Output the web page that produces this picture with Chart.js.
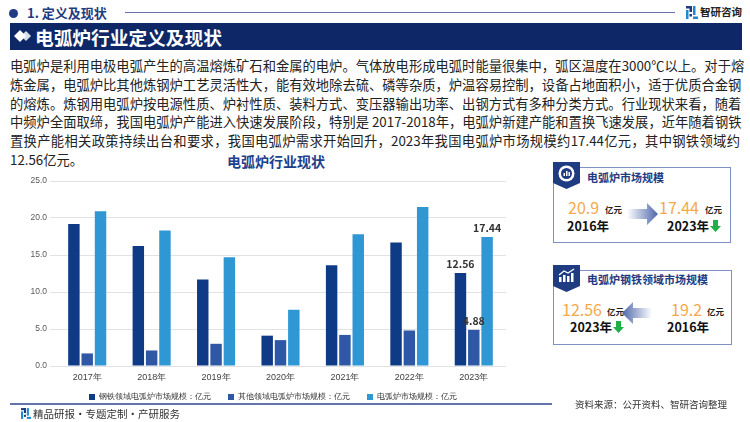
<!DOCTYPE html>
<html>
<head>
<meta charset="utf-8">
<script src="https://cdn.jsdelivr.net/npm/chart.js@4.4.0/dist/chart.umd.min.js"></script>
<style>
  body { margin: 0; width: 750px; height: 422px; overflow: hidden; background: #fff; position: relative;
         font-family: "Noto Sans CJK SC", "Noto Sans", sans-serif; }
  .abs { position: absolute; }
  .para { left: 10px; top: 57px; width: 730px; font-size: 13.3px; color: #222; }
  .para div { height: 18.8px; line-height: 18.8px; text-align: justify; text-align-last: justify; white-space: nowrap; }
  .para div.last { text-align-last: left; }
  .box { border: 1px solid #7f90c4; background: #fff; }
  .tab { background: #1f3b82; clip-path: polygon(0 0, 100% 0, 100% 78%, 50% 100%, 0 78%); }
  .ptitle { font-size: 11px; font-weight: bold; color: #1f3b82; white-space: nowrap; }
  .num { font-size: 16px; color: #f5a94c; line-height: 1; }
  .unit { font-size: 8.5px; font-weight: bold; color: #222; }
  .yr { font-size: 12.5px; font-weight: bold; color: #111; line-height: 1; }
</style>
</head>
<body>
<!-- header -->
<div class="abs" style="left:9px;top:9px;width:9px;height:9px;border-radius:50%;background:#1f3b82;"></div>
<div class="abs" style="left:27px;top:4px;font-size:13px;font-weight:bold;color:#1f3b82;line-height:18px;">1. 定义及现状</div>
<div class="abs" style="left:125px;top:12px;width:550px;height:1px;background:#6274a8;"></div>
<svg class="abs" style="left:686px;top:6px;" width="12" height="13" viewBox="0 0 12 13">
  <rect x="0" y="0" width="6" height="2.5" fill="#1f3b82"/><rect x="3.5" y="0" width="2.5" height="6" fill="#1f3b82"/>
  <rect x="0" y="4" width="2.5" height="9" fill="#1f88d2"/><rect x="7" y="0" width="2.5" height="9" fill="#1f88d2"/>
  <rect x="7" y="10.5" width="5" height="2.5" fill="#1f88d2"/><rect x="3.5" y="8" width="2.5" height="2.5" fill="#1f3b82"/>
</svg>
<div class="abs" style="left:700px;top:4px;font-size:10.5px;font-weight:bold;color:#222;line-height:16px;">智研咨询</div>

<div class="abs" style="left:10px;top:23px;width:732px;height:27px;background:#0d2767;"></div>
<svg class="abs" style="left:14px;top:30px;" width="18" height="12" viewBox="0 0 18 12">
  <polygon points="0,6 6,0 12,6 6,12" fill="#fff"/><polygon points="7,6 12,1 17,6 12,11" fill="#fff" opacity="0.85"/>
</svg>
<div class="abs" style="left:35px;top:23px;font-size:18.7px;font-weight:bold;color:#fff;line-height:27px;letter-spacing:0;">电弧炉行业定义及现状</div>

<!-- paragraph -->
<div class="abs para">
  <div>电弧炉是利用电极电弧产生的高温熔炼矿石和金属的电炉。气体放电形成电弧时能量很集中，弧区温度在3000℃以上。对于熔</div>
  <div>炼金属，电弧炉比其他炼钢炉工艺灵活性大，能有效地除去硫、磷等杂质，炉温容易控制，设备占地面积小，适于优质合金钢</div>
  <div>的熔炼。炼钢用电弧炉按电源性质、炉衬性质、装料方式、变压器输出功率、出钢方式有多种分类方式。行业现状来看，随着</div>
  <div>中频炉全面取缔，我国电弧炉产能进入快速发展阶段，特别是 2017-2018年，电弧炉新建产能和置换飞速发展，近年随着钢铁</div>
  <div>置换产能相关政策持续出台和要求，我国电弧炉需求开始回升，2023年我国电弧炉市场规模约17.44亿元，其中钢铁领域约</div>
  <div class="last">12.56亿元。</div>
</div>
<div class="abs" style="left:227px;top:152px;font-size:14px;font-weight:bold;color:#1e3f8c;line-height:18px;">电弧炉行业现状</div>

<!-- chart -->
<canvas id="myChart" class="abs" style="left:0;top:170px;" width="540" height="249"></canvas>

<!-- right panel 1 -->
<div class="abs box" style="left:553px;top:167px;width:176px;height:74px;"></div>
<div class="abs tab" style="left:553px;top:162px;width:27px;height:27px;"></div>
<svg class="abs" style="left:557px;top:164px;" width="19" height="19" viewBox="0 0 19 19">
  <circle cx="9.5" cy="9.5" r="8" fill="#fff"/><circle cx="9.5" cy="9.5" r="5.5" fill="#1f3b82"/>
  <rect x="6.5" y="9" width="1.5" height="3" fill="#fff"/><rect x="9" y="7" width="1.5" height="5" fill="#fff"/><rect x="11.5" y="8" width="1.5" height="4" fill="#fff"/>
</svg>
<div class="abs ptitle" style="left:587px;top:169px;line-height:16px;">电弧炉市场规模</div>
<div class="abs num" style="left:568px;top:199px;">20.9</div>
<div class="abs unit" style="left:605px;top:203px;">亿元</div>
<svg class="abs" style="left:627px;top:203px;" width="32" height="22" viewBox="0 0 32 22">
  <defs><linearGradient id="ga" x1="0" x2="1" y1="0" y2="0"><stop offset="0" stop-color="#fff"/><stop offset="1" stop-color="#4c66aa"/></linearGradient></defs>
  <polygon points="0,6 20,6 20,0 31,11 20,22 20,16 0,16" fill="url(#ga)"/>
</svg>
<div class="abs num" style="left:659px;top:199px;">17.44</div>
<div class="abs unit" style="left:705px;top:203px;">亿元</div>
<div class="abs yr" style="left:567px;top:220px;">2016年</div>
<div class="abs yr" style="left:667px;top:220px;">2023年</div>
<svg class="abs" style="left:710px;top:220px;" width="11" height="12" viewBox="0 0 11 12">
  <polygon points="3,0 8,0 8,6 11,6 5.5,12 0,6 3,6" fill="#1fae4a"/>
</svg>

<!-- right panel 2 -->
<div class="abs box" style="left:553px;top:270px;width:177px;height:73px;"></div>
<div class="abs tab" style="left:553px;top:265px;width:27px;height:27px;"></div>
<svg class="abs" style="left:557px;top:268px;" width="19" height="16" viewBox="0 0 19 16">
  <rect x="2" y="9" width="2.5" height="5" fill="#fff"/><rect x="6" y="7" width="2.5" height="7" fill="#fff"/>
  <rect x="10" y="8" width="2.5" height="6" fill="#fff"/><rect x="14" y="5" width="2.5" height="9" fill="#fff"/>
  <polyline points="2,7 7,3 11,5 17,1" fill="none" stroke="#fff" stroke-width="1.3"/>
</svg>
<div class="abs ptitle" style="left:587px;top:271px;line-height:16px;">电弧炉钢铁领域市场规模</div>
<div class="abs num" style="left:562px;top:301px;">12.56</div>
<div class="abs unit" style="left:607px;top:305px;">亿元</div>
<svg class="abs" style="left:622px;top:302px;" width="30" height="22" viewBox="0 0 30 22">
  <defs><linearGradient id="gb" x1="0" x2="1" y1="0" y2="0"><stop offset="0" stop-color="#4c66aa"/><stop offset="1" stop-color="#fff"/></linearGradient></defs>
  <polygon points="0,11 11,0 11,6 30,6 30,16 11,16 11,22" fill="url(#gb)"/>
</svg>
<div class="abs num" style="left:671px;top:301px;">19.2</div>
<div class="abs unit" style="left:707px;top:305px;">亿元</div>
<div class="abs yr" style="left:570px;top:321px;">2023年</div>
<svg class="abs" style="left:613px;top:321px;" width="11" height="12" viewBox="0 0 11 12">
  <polygon points="3,0 8,0 8,6 11,6 5.5,12 0,6 3,6" fill="#1fae4a"/>
</svg>
<div class="abs yr" style="left:667px;top:321px;">2016年</div>

<!-- footer -->
<div class="abs" style="left:10px;top:403px;width:542px;height:2px;background:#6274a8;"></div>
<div class="abs" style="left:575px;top:397px;font-size:9.5px;color:#333;line-height:14px;">资料来源：公开资料、智研咨询整理</div>
<svg class="abs" style="left:21px;top:408px;" width="10" height="11" viewBox="0 0 12 13">
  <rect x="0" y="0" width="6" height="2.5" fill="#1f3b82"/><rect x="3.5" y="0" width="2.5" height="6" fill="#1f3b82"/>
  <rect x="0" y="4" width="2.5" height="9" fill="#1f88d2"/><rect x="7" y="0" width="2.5" height="9" fill="#1f88d2"/>
  <rect x="7" y="10.5" width="5" height="2.5" fill="#1f88d2"/><rect x="3.5" y="8" width="2.5" height="2.5" fill="#1f3b82"/>
</svg>
<div class="abs" style="left:33px;top:406px;font-size:10.5px;color:#333;line-height:16px;">精品研报・专题定制・产研服务</div>

<script>
var years = ['2017年', '2018年', '2019年', '2020年', '2021年', '2022年', '2023年'];
var steelValues = [19.2, 16.2, 11.7, 4.1, 13.6, 16.7, 12.56];
var otherValues = [1.7, 2.1, 3.0, 3.5, 4.2, 4.8, 4.88];
var totalValues = [20.9, 18.3, 14.7, 7.6, 17.8, 21.5, 17.44];
var seriesNames = ['钢铁领域电弧炉市场规模：亿元', '其他领域电弧炉市场规模：亿元', '电弧炉市场规模：亿元'];
var yTicks = [0, 5, 10, 15, 20, 25];

// labels only on the last year
var lastLabels = {
    id: 'lastLabels',
    afterDatasetsDraw: function(chart) {
        var ctx = chart.ctx;
        var i = years.length - 1;
        ctx.save();
        ctx.font = 'bold 10.5px "Noto Sans CJK SC", sans-serif';
        ctx.fillStyle = '#333';
        ctx.textAlign = 'center';
        ctx.textBaseline = 'bottom';
        chart.data.datasets.forEach(function(ds, d) {
            var bar = chart.getDatasetMeta(d).data[i];
            ctx.fillText(ds.data[i].toFixed(2), bar.x, bar.y - 4);
        });
        ctx.restore();
    }
};

// nudge the legend box a bit (right and up)
var moveLegend = {
    id: 'moveLegend',
    afterLayout: function(chart) {
        var l = chart.legend;
        l.left += 20; l.right += 20;
        l.top -= 8; l.bottom -= 8;
    }
};

var ctx = document.querySelector('#myChart').getContext('2d');
var myChart = new Chart(ctx, {
    type: 'bar',
    data: {
        labels: years,
        datasets: [
            { label: seriesNames[0], data: steelValues, backgroundColor: '#0f3a86' },
            { label: seriesNames[1], data: otherValues, backgroundColor: '#2e58a6' },
            { label: seriesNames[2], data: totalValues, backgroundColor: '#2f97d3' }
        ]
    },
    options: {
        responsive: false,
        animation: false,
        devicePixelRatio: 1,
        layout: { padding: { top: 11, right: 34, left: 0, bottom: 0 } },
        datasets: { bar: { barPercentage: 0.86, categoryPercentage: 0.62 } },
        scales: {
            y: {
                min: 0, max: 25,
                afterFit: function(s) { s.width = 55; },
                afterBuildTicks: function(s) { s.ticks = yTicks.map(function(v) { return { value: v }; }); },
                ticks: {
                    callback: function(v) { return v.toFixed(1); },
                    font: { size: 8.5 }, color: '#595959', padding: 3
                },
                grid: { color: '#e2e2e2', tickLength: 5 },
                border: { display: false }
            },
            x: {
                afterFit: function(s) { s.height = 18; },
                grid: { display: false, drawTicks: false },
                border: { display: false },
                ticks: { font: { size: 9 }, color: '#404040', padding: 6 }
            }
        },
        plugins: {
            legend: {
                position: 'bottom',
                labels: { boxWidth: 6, boxHeight: 6, font: { size: 8 }, color: '#333', padding: 17 }
            },
            tooltip: { enabled: false }
        }
    },
    plugins: [lastLabels, moveLegend]
});
</script>
</body>
</html>
